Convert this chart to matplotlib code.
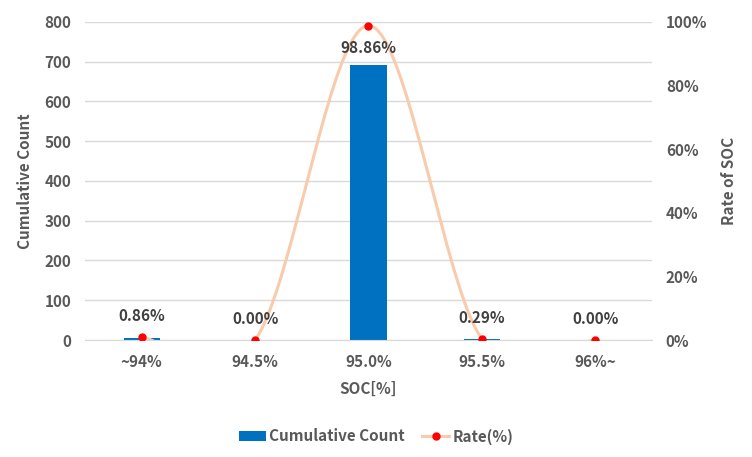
import numpy as np
import matplotlib.pyplot as plt
from matplotlib.ticker import FuncFormatter

plt.rcParams['font.family'] = ['Noto Sans CJK KR', 'DejaVu Sans']

categories = ["~94%", "94.5%", "95.0%", "95.5%", "96%~"]
counts = [6, 0, 692, 2, 0]
rates = [0.86, 0.00, 98.86, 0.29, 0.00]

TEXT = "#595959"
LABEL = "#404040"


def smooth(xs, ys, n=40):
    # excel-like smoothed line (catmull-rom bezier)
    xs = np.asarray(xs, float)
    ys = np.asarray(ys, float)
    px = np.concatenate([[xs[0]], xs, [xs[-1]]])
    py = np.concatenate([[ys[0]], ys, [ys[-1]]])
    out_x, out_y = [], []
    t = np.linspace(0, 1, n)
    for i in range(1, len(px) - 2):
        p0 = np.array([px[i], py[i]])
        p3 = np.array([px[i + 1], py[i + 1]])
        c1 = p0 + (np.array([px[i + 1], py[i + 1]]) - np.array([px[i - 1], py[i - 1]])) / 6
        c2 = p3 - (np.array([px[i + 2], py[i + 2]]) - np.array([px[i], py[i]])) / 6
        b = ((1 - t) ** 3)[:, None] * p0 + (3 * (1 - t) ** 2 * t)[:, None] * c1 \
            + (3 * (1 - t) * t ** 2)[:, None] * c2 + (t ** 3)[:, None] * p3
        out_x.extend(b[:, 0])
        out_y.extend(b[:, 1])
    return np.array(out_x), np.array(out_y)


fig = plt.figure(figsize=(7.52, 4.57), dpi=100)
ax = fig.add_axes([0.113, 0.256, 0.754, 0.696])
x = np.arange(len(categories))

ax.bar(x, counts, width=0.32, color="#0070C0", zorder=2, label="Cumulative Count")
ax.set_ylim(0, 800)
ax.set_yticks(range(0, 801, 100))
ax.set_xlim(-0.5, len(categories) - 0.5)
ax.set_xticks(x)
ax.set_xticklabels(categories)
ax.grid(axis="y", color="#D9D9D9", linewidth=1, zorder=0)
for s in ax.spines.values():
    s.set_visible(False)
ax.spines["bottom"].set_visible(True)
ax.spines["bottom"].set_color("#D9D9D9")
ax.tick_params(length=0, colors=TEXT, labelsize=11, pad=10)
for lab in ax.get_xticklabels() + ax.get_yticklabels():
    lab.set_fontweight("bold")
ax.set_ylabel("Cumulative Count", color=TEXT, fontsize=11, fontweight="bold", labelpad=8)
ax.set_xlabel("SOC[%]", color=TEXT, fontsize=11, fontweight="bold", labelpad=8)

ax2 = ax.twinx()
ax2.set_ylim(0, 100)
ax2.set_yticks(range(0, 101, 20))
ax2.yaxis.set_major_formatter(FuncFormatter(lambda v, p: f"{v:.0f}%"))
for s in ax2.spines.values():
    s.set_visible(False)
ax2.tick_params(length=0, colors=TEXT, labelsize=11, pad=10)
for lab in ax2.get_yticklabels():
    lab.set_fontweight("bold")
ax2.set_ylabel("Rate of SOC", color=TEXT, fontsize=11, fontweight="bold", labelpad=10)

sx, sy = smooth(x, rates)
ax2.plot(sx, sy, color="#F8CBAD", linewidth=2.2, zorder=3)
ax2.plot(x, rates, linestyle="none", marker="o", markersize=5,
         color="#FF0000", zorder=4)
line_handle, = ax2.plot([], [], color="#F8CBAD", linewidth=2.2, marker="o",
                        markersize=5, markerfacecolor="#FF0000",
                        markeredgecolor="#FF0000", label="Rate(%)")

for xi, r in zip(x, rates):
    if r > 50:
        ax2.annotate(f"{r:.2f}%", (xi, r), xytext=(0, -16), textcoords="offset points",
                     ha="center", va="center", fontsize=11, fontweight="bold", color=LABEL)
    else:
        ax2.annotate(f"{r:.2f}%", (xi, r), xytext=(0, 15), textcoords="offset points",
                     ha="center", va="center", fontsize=11, fontweight="bold", color=LABEL)

h1, l1 = ax.get_legend_handles_labels()
fig.legend(h1 + [line_handle], l1 + ["Rate(%)"], loc="center", bbox_to_anchor=(0.5, 0.045),
           ncol=2, frameon=False, handlelength=1.8, columnspacing=1.1,
           handletextpad=0.2, labelcolor=TEXT, prop={"weight": "bold", "size": 11})

fig.savefig("out.png", dpi=100)
